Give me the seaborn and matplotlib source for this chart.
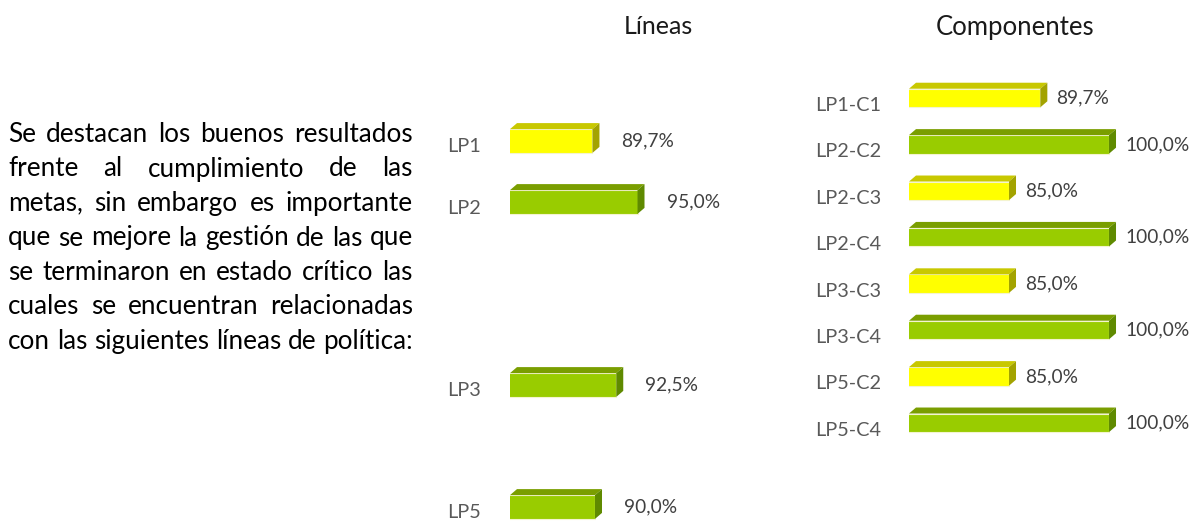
import pandas as pd
import seaborn as sns
import matplotlib.pyplot as plt
from matplotlib.patches import Polygon
from matplotlib.colors import to_hex
from matplotlib.transforms import ScaledTranslation

# datos
lineas = ['LP1', 'LP2', 'LP3', 'LP5']
lineas_pct = [89.7, 95.0, 92.5, 90.0]
componentes = ['LP1-C1', 'LP2-C2', 'LP2-C3', 'LP2-C4', 'LP3-C3', 'LP3-C4', 'LP5-C2', 'LP5-C4']
componentes_pct = [89.7, 100.0, 85.0, 100.0, 85.0, 100.0, 85.0, 100.0]
texto = [
    'Se destacan los buenos resultados',
    'frente al cumplimiento de las',
    'metas, sin embargo es importante',
    'que se mejore la gestión de las que',
    'se terminaron en estado crítico las',
    'cuales se encuentran relacionadas',
    'con las siguientes líneas de política:',
]

# layout (filas de cada linea en el grafico, con huecos)
filas_lineas = [0, 1, 4, 6]
filas_comp = list(range(len(componentes)))

W, H = 1192, 521
sns.set_style('white')
plt.rcParams['font.family'] = ['Lato', 'DejaVu Sans']

cara = {'bajo': '#FFFF00', 'alto': '#99CC00'}
tapa = {'#ffff00': '#C8C800', '#99cc00': '#7A9E00'}
lado = {'#ffff00': '#A3A300', '#99cc00': '#5F8A00'}
gris = '#595959'


def estado(v):
    return 'bajo' if v < 90 else 'alto'


def pct(v):
    return f'{v:.1f}%'.replace('.', ',')


def px_ax(left, top, right, bottom):
    return [left / W, 1 - bottom / H, (right - left) / W, (bottom - top) / H]


fig = plt.figure(figsize=(W / 100, H / 100), dpi=100)


def barras_3d(ax, etiquetas, valores, filas, xlim, ylim, ancho, pad_val, pad_tick, baja):
    df = pd.DataFrame({'fila': filas, 'pct': valores,
                       'estado': [estado(v) for v in valores]})
    sns.barplot(data=df, x='pct', y='fila', hue='estado', palette=cara,
                orient='h', native_scale=True, dodge=False, width=ancho,
                legend=False, ax=ax, saturation=1, linewidth=0.8, edgecolor='#f4f4d0')
    ax.set_xlim(*xlim)
    ax.set_ylim(*ylim)
    ax.set_yticks(filas, labels=etiquetas)
    ax.set_xticks([])
    ax.set_xlabel('')
    ax.set_ylabel('')
    sns.despine(ax=ax, left=True, bottom=True)
    ax.tick_params(axis='y', length=0, pad=pad_tick, labelsize=14.3, labelcolor=gris)
    off = ScaledTranslation(0, -baja, fig.dpi_scale_trans)
    for lab in ax.get_yticklabels():
        lab.set_transform(lab.get_transform() + off)
    for c in ax.containers:
        ax.bar_label(c, labels=[pct(v) for v in c.datavalues], padding=pad_val,
                     fontsize=13.8, color='#404040')
    # caras superior y lateral
    td = ax.transData
    inv = td.inverted()
    d = [7, 6]
    for p in list(ax.patches):
        if p.get_width() <= 0:
            continue
        fc = to_hex(p.get_facecolor())
        x0 = max(p.get_x(), xlim[0])
        x1 = p.get_x() + p.get_width()
        ya, yb = p.get_y(), p.get_y() + p.get_height()
        ysup, yinf = min(ya, yb), max(ya, yb)
        A = td.transform((x0, ysup))
        B = td.transform((x1, ysup))
        C = td.transform((x1, yinf))
        sup = inv.transform([A, B, B + d, A + d])
        lat = inv.transform([B, B + d, C + d, C])
        ax.add_patch(Polygon(sup, closed=True, facecolor=tapa.get(fc, '#C8C800'),
                             edgecolor='none', clip_on=False))
        ax.add_patch(Polygon(lat, closed=True, facecolor=lado.get(fc, '#A3A300'),
                             edgecolor='none', clip_on=False))


ax1 = fig.add_axes(px_ax(510, 141 - 61 * 0.7, 700, 141 + 61 * 6.25))
barras_3d(ax1, lineas, lineas_pct, filas_lineas, (80, 80 + 190 / 8.5), (6.25, -0.7),
          0.39, 21, 21, 0.045)

ax2 = fig.add_axes(px_ax(909, 98 - 46.4, 1160, 98 + 46.4 * 8))
barras_3d(ax2, componentes, componentes_pct, filas_comp, (70, 70 + 251 / 6.667), (8, -1),
          0.4, 11.5, 20, 0.06)

fig.text(658 / W, 1 - 27 / H, 'Líneas', ha='center', va='center', fontsize=18, color='#1a1a1a')
fig.text(1015 / W, 1 - 27 / H, 'Componentes', ha='center', va='center', fontsize=18.5, color='#1a1a1a')

# texto justificado
r = fig.canvas.get_renderer()
x_ini, x_fin = 8, 413
prueba = fig.text(0, 0, texto[-1], fontsize=15)
tam = 15 * (x_fin - x_ini) / prueba.get_window_extent(r).width
prueba.remove()
kw = dict(fontsize=tam, color='#000000', va='baseline', ha='left')
t1 = fig.text(0, 0, 'a a', **kw)
t2 = fig.text(0, 0, 'aa', **kw)
esp = t1.get_window_extent(r).width - t2.get_window_extent(r).width
t1.remove()
t2.remove()
for i, linea in enumerate(texto):
    palabras = linea.split()
    y = 1 - (142 + 34.5 * i) / H
    arts = [fig.text(0, y, w, **kw) for w in palabras]
    anchos = [a.get_window_extent(r).width for a in arts]
    if i < len(texto) - 1:
        hueco = (x_fin - x_ini - sum(anchos)) / (len(palabras) - 1)
    else:
        hueco = esp
    x = x_ini
    for a, w in zip(arts, anchos):
        a.set_x(x / W)
        x += w + hueco

fig.savefig('out.png', dpi=100)
